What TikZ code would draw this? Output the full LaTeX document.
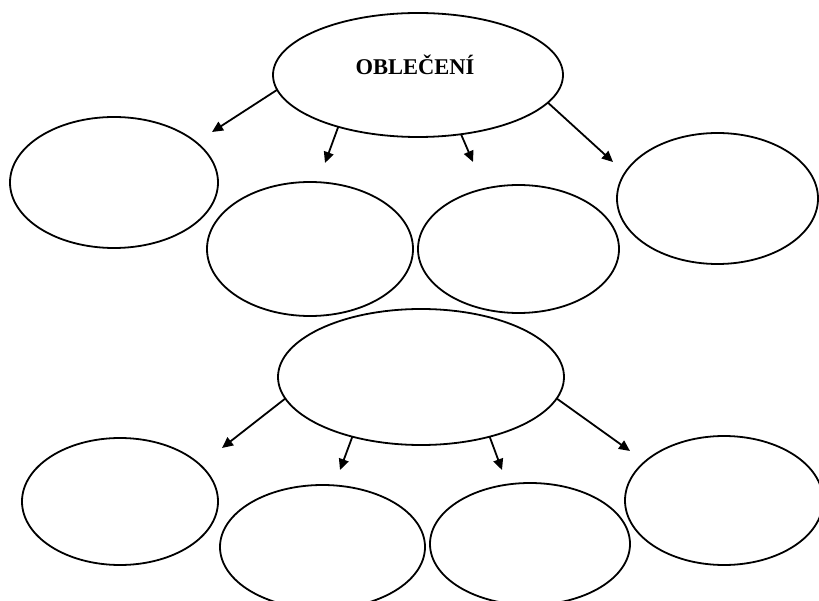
\documentclass[tikz,border=0pt]{standalone}
\usepackage{fontspec}
\setmainfont{Liberation Serif}
\usetikzlibrary{shapes.geometric,arrows.meta}
\begin{document}
\begin{tikzpicture}[x=1pt,y=-1pt,
  bubble/.style={draw=black,line width=1.8pt,ellipse,inner sep=0pt,outer sep=0pt},
  link/.style={draw=black,line width=1.8pt,-{Triangle[length=11pt,width=10pt]}}]
\useasboundingbox[fill=white] (0,0) rectangle (819,601);
% top group
\node[bubble,minimum width=290pt,minimum height=124pt] (top) at (418,75) {};
\node[anchor=base,font=\bfseries\fontsize{22.5}{24}\selectfont,inner sep=0pt] (title) at (415,75) {OBLEČENÍ};
\node[bubble,minimum width=208pt,minimum height=131pt] (t1) at (114,182.5) {};
\node[bubble,minimum width=206pt,minimum height=134pt] (t2) at (310,249) {};
\node[bubble,minimum width=201pt,minimum height=128pt] (t3) at (518.5,249) {};
\node[bubble,minimum width=201pt,minimum height=131pt] (t4) at (717.5,198.5) {};
\coordinate (ta1) at (212,132);
\coordinate (ta2) at (325,163);
\coordinate (ta3) at (473,162);
\coordinate (ta4) at (613,162);
\draw[link] (top.186) -- (ta1);
\draw[link] (top.213) -- (ta2);
\draw[link] (top.306) -- (ta3);
\draw[link] (top.348) -- (ta4);
% bottom group
\node[bubble,minimum width=286pt,minimum height=136pt] (bot) at (421,377) {};
\node[bubble,minimum width=196pt,minimum height=127pt] (b1) at (120,501.5) {};
\node[bubble,minimum width=205pt,minimum height=124pt] (b2) at (322.5,547) {};
\node[bubble,minimum width=200pt,minimum height=122pt] (b3) at (530,544) {};
\node[bubble,minimum width=198pt,minimum height=129pt] (b4) at (724,500.5) {};
\coordinate (ba1) at (222,448);
\coordinate (ba2) at (340,470);
\coordinate (ba3) at (502,470);
\coordinate (ba4) at (630,451);
\draw[link] (bot.189.6) -- (ba1);
\draw[link] (bot.221.4) -- (ba2);
\draw[link] (bot.319) -- (ba3);
\draw[link] (bot.351.8) -- (ba4);
\end{tikzpicture}
\end{document}
